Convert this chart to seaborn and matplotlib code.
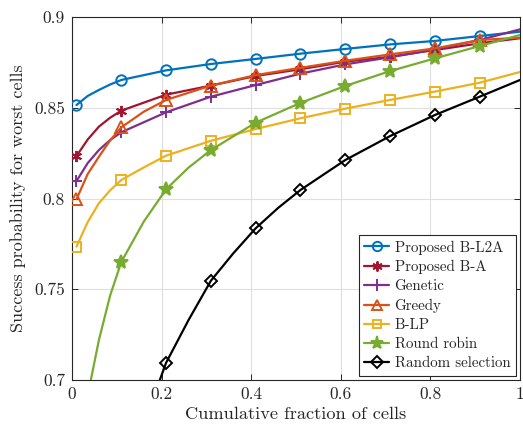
import numpy as np
import pandas as pd
import seaborn as sns
import matplotlib
matplotlib.use("Agg")
import matplotlib.pyplot as plt
from matplotlib.lines import Line2D

# marker grid (last point = curve end, no marker)
x_marks = [0.01, 0.11, 0.21, 0.31, 0.41, 0.51, 0.61, 0.71, 0.81, 0.91, 1.0]

y_bl2a    = [0.8515, 0.8653, 0.8706, 0.8741, 0.8769, 0.8798, 0.8824, 0.8849, 0.8868, 0.8895, 0.8919]
y_ba      = [0.8234, 0.8484, 0.8572, 0.8622, 0.8675, 0.8712, 0.8754, 0.8781, 0.8818, 0.8855, 0.8883]
y_genetic = [0.8096, 0.8365, 0.8475, 0.8561, 0.8625, 0.8688, 0.8739, 0.8778, 0.8822, 0.8873, 0.8932]
y_greedy  = [0.7996, 0.8392, 0.8543, 0.8622, 0.8680, 0.8720, 0.8759, 0.8794, 0.8827, 0.8873, 0.8886]
y_blp     = [0.7735, 0.8102, 0.8236, 0.8318, 0.8383, 0.8442, 0.8495, 0.8543, 0.8589, 0.8638, 0.8697]
y_rr      = [np.nan, 0.7650, 0.8051, 0.8267, 0.8418, 0.8527, 0.8620, 0.8702, 0.8772, 0.8840, 0.8901]
y_rand    = [np.nan, np.nan, 0.7095, 0.7547, 0.7836, 0.8047, 0.8212, 0.8344, 0.8460, 0.8561, 0.8653]

# extra points read along the curved parts
extra_bl2a    = ([0.035, 0.06, 0.085], [0.8565, 0.8598, 0.8628])
extra_ba      = ([0.035, 0.06, 0.085], [0.8325, 0.8396, 0.8445])
extra_genetic = ([0.035, 0.06, 0.085], [0.8195, 0.8267, 0.8322])
extra_greedy  = ([0.035, 0.06, 0.085, 0.16], [0.8135, 0.8230, 0.8320, 0.8478])
extra_blp     = ([0.035, 0.06, 0.085, 0.16], [0.7870, 0.7974, 0.8045, 0.8171])
extra_rr      = ([0.042, 0.06, 0.085, 0.16, 0.26], [0.700, 0.722, 0.7465, 0.7872, 0.8170])
extra_rand    = ([0.196, 0.26, 0.36, 0.46], [0.700, 0.733, 0.7698, 0.7948])

labels = ["Proposed B-L2A", "Proposed B-A", "Genetic", "Greedy", "B-LP",
          "Round robin", "Random selection"]
colors = ["#0072BD", "#A2142F", "#7E2F8E", "#D95319", "#EDB120", "#77AC30", "#000000"]

series = [y_bl2a, y_ba, y_genetic, y_greedy, y_blp, y_rr, y_rand]
extras = [extra_bl2a, extra_ba, extra_genetic, extra_greedy, extra_blp, extra_rr, extra_rand]

# marker, size, face
mstyle = [("o", 7.5, "none"), ((6, 2, 0), 8, None), ("+", 9, None), ("^", 8.5, "none"),
          ("s", 6.5, "none"), ("*", 10.5, None), ("D", 6.5, "none")]

sns.set_style("ticks")
plt.rcParams["font.family"] = ["cmr10", "DejaVu Serif"]
plt.rcParams["mathtext.fontset"] = "cm"
plt.rcParams["axes.formatter.use_mathtext"] = True

fig = plt.figure(figsize=(5.23, 4.28), dpi=100)
ax = fig.add_axes([0.1377, 0.1121, 0.8566, 0.8482])

handles = []
for lab, col, ys, ex, (mk, ms, fc) in zip(labels, colors, series, extras, mstyle):
    df = pd.DataFrame({"x": list(x_marks) + ex[0], "y": list(ys) + ex[1]})
    df["mark"] = [True] * (len(x_marks) - 1) + [False] + [False] * len(ex[0])
    df = df.dropna().sort_values("x").reset_index(drop=True)
    idx = list(df.index[df["mark"]])
    face = col if fc is None else fc
    sns.lineplot(data=df, x="x", y="y", ax=ax, color=col, lw=1.6,
                 estimator=None, sort=False, marker=mk, markevery=idx,
                 markersize=ms, markerfacecolor=face, markeredgecolor=col,
                 markeredgewidth=1.4, zorder=3)
    handles.append(Line2D([0], [0], color=col, lw=1.6, marker=mk, markersize=ms * 0.9,
                          markerfacecolor=face, markeredgecolor=col, markeredgewidth=1.4))

ax.set_xlim(0, 1)
ax.set_ylim(0.7, 0.9)
ax.set_xticks([0, 0.2, 0.4, 0.6, 0.8, 1])
ax.set_xticklabels(["0", "0.2", "0.4", "0.6", "0.8", "1"])
ax.set_yticks([0.7, 0.75, 0.8, 0.85, 0.9])
ax.set_yticklabels(["0.7", "0.75", "0.8", "0.85", "0.9"])
ax.grid(True, color="#dfdfdf", lw=0.8)
ax.set_axisbelow(True)
for s in ax.spines.values():
    s.set_color("#262626")
    s.set_linewidth(0.8)
ax.tick_params(direction="in", top=True, right=True, labelsize=12.5,
               colors="#262626", length=4, width=0.7, pad=5)
ax.set_xlabel("Cumulative fraction of cells", fontsize=13.2, color="#262626", labelpad=3)
ax.set_ylabel("Success probability for worst cells", fontsize=13, color="#262626", labelpad=6)

leg = ax.legend(handles, labels, loc="lower right", fontsize=10.8, frameon=True,
                fancybox=False, framealpha=1, edgecolor="#262626",
                handlelength=1.7, handletextpad=0.35, borderpad=0.35,
                labelspacing=0.36, borderaxespad=0.3)
leg.get_frame().set_linewidth(0.8)

fig.savefig("out.png", dpi=100)
